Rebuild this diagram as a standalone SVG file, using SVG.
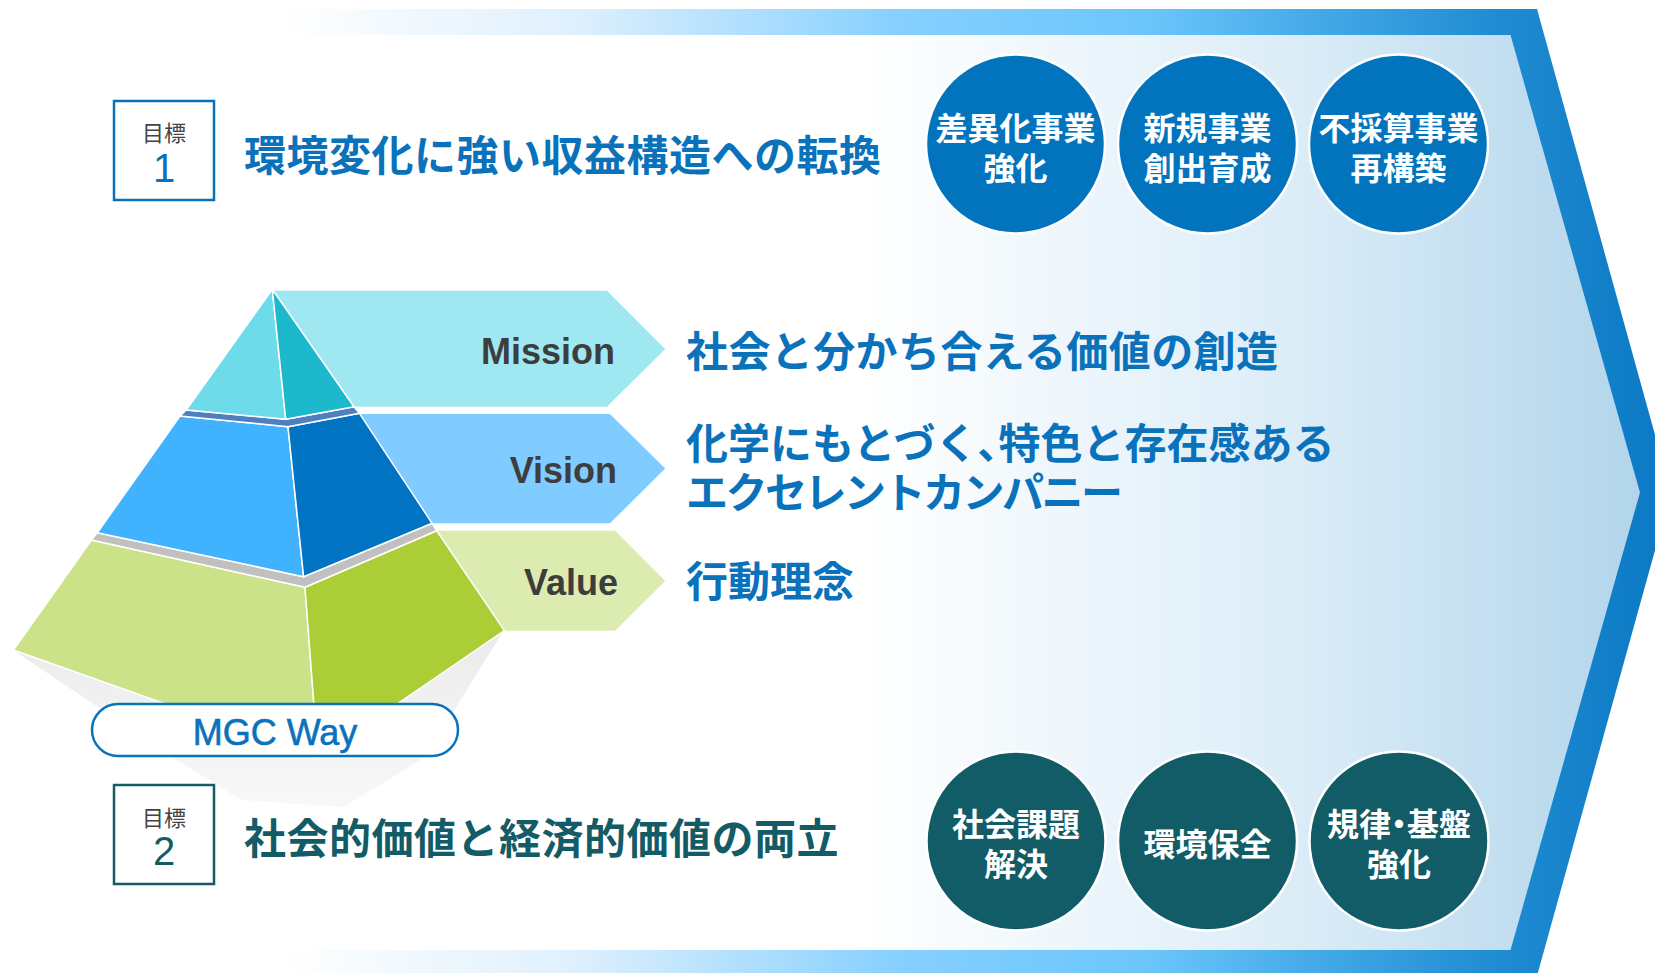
<svg xmlns="http://www.w3.org/2000/svg" width="1655" height="973" viewBox="0 0 1655 973">
  <defs>
    <!-- outer chevron band: fades in from white to deep blue -->
    <linearGradient id="bandGrad" gradientUnits="userSpaceOnUse" x1="281" y1="0" x2="1671" y2="0">
      <stop offset="0" stop-color="#ffffff"/>
      <stop offset="0.21" stop-color="#dff0fd"/>
      <stop offset="0.445" stop-color="#86d0ff"/>
      <stop offset="0.625" stop-color="#6bc5fb"/>
      <stop offset="0.733" stop-color="#48ace9"/>
      <stop offset="0.877" stop-color="#1f8bd2"/>
      <stop offset="1" stop-color="#0a78c3"/>
    </linearGradient>
    <!-- inner field of the chevron -->
    <linearGradient id="fieldGrad" gradientUnits="userSpaceOnUse" x1="860" y1="0" x2="1640" y2="0">
      <stop offset="0" stop-color="#ffffff"/>
      <stop offset="0.55" stop-color="#dcedf8"/>
      <stop offset="1" stop-color="#b2d5eb"/>
    </linearGradient>
    <linearGradient id="shadowGrad" x1="0" y1="0" x2="0" y2="1">
      <stop offset="0" stop-color="#ebebeb"/>
      <stop offset="1" stop-color="#f8f8f8"/>
    </linearGradient>
    <style>
      .jp { font-family: "Noto Sans CJK JP", "Noto Sans CJK SC", sans-serif; }
      .heading { font-size: 42px; font-weight: 700; }
      .blue { fill: #0a72bb; }
      .teal { fill: #135b66; }
      .goalbox { fill: #ffffff; stroke-width: 2.5; }
      .goalword { font-size: 22px; font-weight: 400; fill: #444444; text-anchor: middle; }
      .goalnum { font-family: "Liberation Sans", Arial, sans-serif; font-size: 40px; text-anchor: middle; }
      .bubble { stroke: #ffffff; stroke-width: 2.5; }
      .bubble-blue { fill: #0274be; }
      .bubble-teal { fill: #115c66; }
      .bubbletext { font-size: 32px; font-weight: 700; fill: #ffffff; text-anchor: middle; }
      .face { stroke: #ffffff; stroke-width: 1.5; stroke-linejoin: round; }
      .tier-label { font-family: "Liberation Sans", Arial, sans-serif; font-size: 36px; font-weight: 700; fill: #3d3d3d; text-anchor: end; }
      /* half-width punctuation via proportional alternates */
      .narrow { font-feature-settings: "palt" 1; }
    </style>
  </defs>

  <!-- background chevron -->
  <g id="frame">
    <path d="M0,9 L1537,9 L1671,492.5 L1537,976 L0,976 Z" fill="url(#bandGrad)"/>
    <path d="M0,35 L1510.5,35 L1640,492.5 L1510.5,950 L0,950 Z" fill="url(#fieldGrad)"/>
  </g>

  <!-- goal 1 -->
  <g id="goal1">
    <rect class="goalbox" x="114" y="101" width="100" height="99" stroke="#0a72bb"/>
    <text class="jp goalword" x="164" y="141">目標</text>
    <text class="goalnum blue" x="164" y="182">1</text>
    <text class="jp heading blue" x="244" y="170.5" letter-spacing="0.5">環境変化に強い収益構造への転換</text>
  </g>

  <g id="goal1-items">
    <g id="item-differentiation">
      <circle class="bubble bubble-blue" cx="1015.5" cy="144" r="89.5"/>
      <text class="jp bubbletext" x="1015.5" y="140">差異化事業</text>
      <text class="jp bubbletext" x="1015.5" y="179.5">強化</text>
    </g>
    <g id="item-new-business">
      <circle class="bubble bubble-blue" cx="1207.5" cy="144" r="89.5"/>
      <text class="jp bubbletext" x="1207.5" y="140">新規事業</text>
      <text class="jp bubbletext" x="1207.5" y="179.5">創出育成</text>
    </g>
    <g id="item-restructuring">
      <circle class="bubble bubble-blue" cx="1398.5" cy="144" r="89.5"/>
      <text class="jp bubbletext" x="1398.5" y="140">不採算事業</text>
      <text class="jp bubbletext" x="1398.5" y="179.5">再構築</text>
    </g>
  </g>

  <!-- tier banners (drawn under the pyramid) -->
  <g id="banner-mission">
    <polygon points="273,290.7 607,290.7 665.2,349 607,406.7 354,406.7" fill="#9fe8f2"/>
    <text class="tier-label" x="615" y="364">Mission</text>
    <text class="jp heading blue" x="686" y="367" letter-spacing="0.4">社会と分かち合える価値の創造</text>
  </g>
  <g id="banner-vision">
    <polygon points="359.4,414 610,414 665.2,468.5 610,523.3 432.1,523.3" fill="#80cbff"/>
    <text class="tier-label" x="617" y="483">Vision</text>
    <text class="jp heading blue" x="686" y="459">化学にもとづく<tspan class="narrow">、</tspan>特色と存在感ある</text>
    <text class="jp heading blue" x="686" y="508" letter-spacing="-2.5">エクセレントカンパニー</text>
  </g>
  <g id="banner-value">
    <polygon points="437.5,530.7 615,530.7 665.2,581 615,630.7 504.4,630.7" fill="#dcebb0"/>
    <text class="tier-label" x="618" y="595">Value</text>
    <text class="jp heading blue" x="686" y="597">行動理念</text>
  </g>

  <!-- pyramid -->
  <g id="pyramid">
    <polygon points="13,650 172,757 241,800 344,807 425,757 504,630" fill="url(#shadowGrad)"/>
    <polygon class="face" points="91.5,540 305,587.3 318,758 13.4,650" fill="#cbe288"/>
    <polygon class="face" points="305,587.3 436.6,530.7 504.4,630.7 318,758" fill="#abce37"/>
    <polygon class="face" points="97.3,532.7 303.6,576.7 432.1,523.3 436.6,530.7 305,587.3 91.5,540" fill="#c0c0c0"/>
    <polygon class="face" points="180,416 288,426.7 303.6,576.7 97.3,532.7" fill="#41b3fe"/>
    <polygon class="face" points="288,426.7 359.4,413.3 432.1,523.3 303.6,576.7" fill="#0074c2"/>
    <polygon class="face" points="186.2,410 285.7,419.3 354,406.7 359.4,413.3 288,426.7 180,416" fill="#4e7fbf"/>
    <polygon class="face" points="272.3,289.3 285.7,419.3 186.2,410" fill="#6ddbea"/>
    <polygon class="face" points="272.3,289.3 354,406.7 285.7,419.3" fill="#1eb8cc"/>
  </g>

  <g id="mgc-way">
    <rect x="92" y="704" width="366" height="52" rx="26" fill="#ffffff" stroke="#0a72bb" stroke-width="2.5"/>
    <text x="275" y="745" font-family="Liberation Sans, Arial, sans-serif" font-size="36" fill="#0a72bb" text-anchor="middle" stroke="#0a72bb" stroke-width="0.6">MGC Way</text>
  </g>

  <!-- goal 2 -->
  <g id="goal2">
    <rect class="goalbox" x="114" y="785" width="100" height="99" stroke="#135b66"/>
    <text class="jp goalword" x="164" y="826">目標</text>
    <text class="goalnum teal" x="164" y="865">2</text>
    <text class="jp heading teal" x="244" y="854" letter-spacing="0.5">社会的価値と経済的価値の両立</text>
  </g>

  <g id="goal2-items">
    <g id="item-social-issues">
      <circle class="bubble bubble-teal" cx="1016" cy="841" r="89.5"/>
      <text class="jp bubbletext" x="1016" y="836">社会課題</text>
      <text class="jp bubbletext" x="1016" y="876">解決</text>
    </g>
    <g id="item-environment">
      <circle class="bubble bubble-teal" cx="1207.5" cy="841" r="89.5"/>
      <text class="jp bubbletext" x="1207.5" y="856">環境保全</text>
    </g>
    <g id="item-governance">
      <circle class="bubble bubble-teal" cx="1399" cy="841" r="89.5"/>
      <text class="jp bubbletext" x="1399" y="836">規律<tspan class="narrow">・</tspan>基盤</text>
      <text class="jp bubbletext" x="1399" y="876">強化</text>
    </g>
  </g>

  <!-- no connectors in this figure -->
  <g id="connectors"/>
</svg>
